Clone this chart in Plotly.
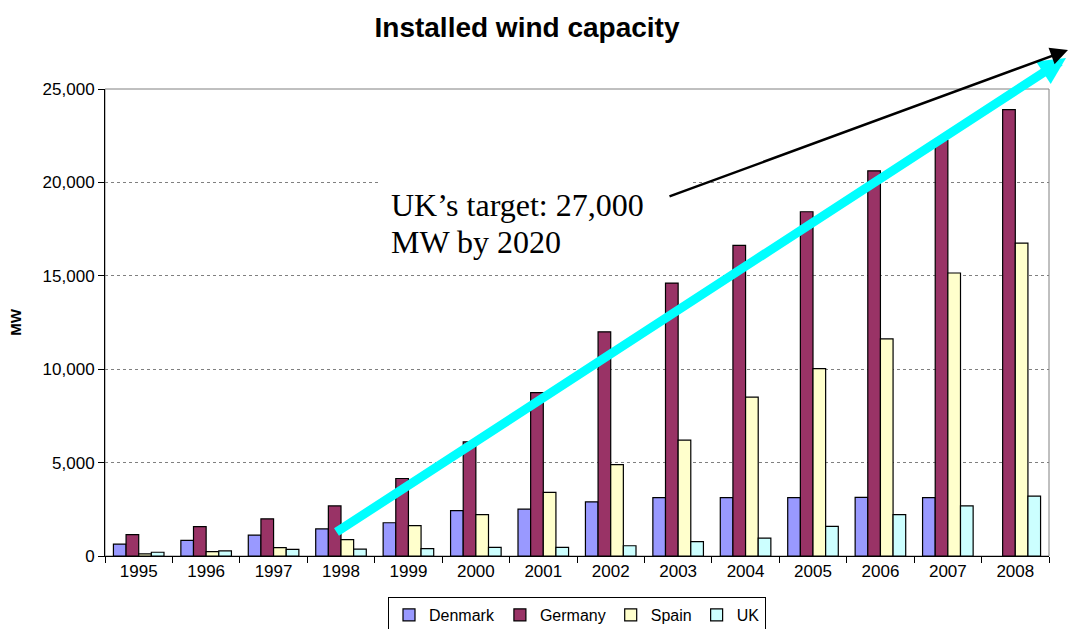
import plotly.graph_objects as go

years = ["1995", "1996", "1997", "1998", "1999", "2000", "2001",
         "2002", "2003", "2004", "2005", "2006", "2007", "2008"]
denmark = [640, 835, 1120, 1450, 1780, 2425, 2510, 2900, 3120, 3125, 3130, 3135, 3130, None]
germany = [1140, 1570, 1990, 2680, 4150, 6110, 8750, 12000, 14610, 16630, 18430, 20620, 22250, 23900]
spain = [110, 230, 450, 880, 1630, 2220, 3410, 4890, 6200, 8500, 10030, 11620, 15150, 16750]
uk = [200, 270, 360, 370, 390, 460, 465, 550, 770, 960, 1590, 2210, 2680, 3210]

series = [("Denmark", denmark, "#9999FF"),
          ("Germany", germany, "#993366"),
          ("Spain", spain, "#FFFFCC"),
          ("UK", uk, "#CCFFFF")]

W, H = 1070, 629
L, R, T, B = 105, 21, 89, 73
pw, ph = W - L - R, H - T - B

def px(x):
    return (x - L) / pw

def py(y):
    return (H - B - y) / ph

fig = go.Figure()
for name, vals, col in series:
    fig.add_trace(go.Bar(x=years, y=vals, name=name,
                         marker=dict(color=col, line=dict(color="black", width=1.2))))

fig.update_layout(
    width=W, height=H,
    margin=dict(l=L, r=R, t=T, b=B, autoexpand=False),
    paper_bgcolor="white", plot_bgcolor="white",
    barmode="group", bargap=0.25, bargroupgap=0,
    font=dict(family="Liberation Sans, Arial", color="black", size=17),
    title=dict(text="<b>Installed wind capacity</b>", x=527 / W, xanchor="center",
               y=1 - 27 / H, yanchor="middle", yref="container",
               font=dict(size=28, family="Liberation Sans, Arial", color="black")),
    legend=dict(orientation="h", x=px(577), xanchor="center", y=py(597), yanchor="top",
                bordercolor="black", borderwidth=1, bgcolor="white",
                font=dict(size=16), itemwidth=30, traceorder="normal",
                tracegroupgap=0),
    xaxis=dict(showline=True, linecolor="black", linewidth=1, ticks="outside",
               tickson="boundaries", ticklen=6, tickcolor="black",
               tickfont=dict(size=17), showgrid=False, automargin=False),
    yaxis=dict(range=[0, 25000], dtick=5000, tickformat=",", showline=True,
               linecolor="black", linewidth=1, ticks="outside", ticklen=6,
               tickcolor="black", tickfont=dict(size=17), automargin=False,
               showgrid=True, gridcolor="#808080", griddash="dot", gridwidth=1,
               zeroline=False,
               title=dict(text="<b>MW</b>", font=dict(size=15), standoff=17)),
)

# plot area border (top/right gray)
fig.add_shape(type="rect", xref="paper", yref="paper", x0=0, x1=1, y0=0, y1=1,
              line=dict(color="#808080", width=1), layer="below")

# white text box
fig.add_shape(type="rect", xref="paper", yref="paper",
              x0=px(381), x1=px(693), y0=py(268), y1=py(180),
              fillcolor="white", line=dict(width=0), layer="above")

label_font = dict(family="Liberation Serif, Times New Roman", size=32, color="black")
fig.add_annotation(xref="paper", yref="paper", x=px(389), y=py(205),
                   xanchor="left", yanchor="middle", showarrow=False,
                   text="UK’s target: 27,000", font=label_font)
fig.add_annotation(xref="paper", yref="paper", x=px(389), y=py(242),
                   xanchor="left", yanchor="middle", showarrow=False,
                   text="MW by 2020", font=label_font)

# cyan arrow
fig.add_annotation(xref="paper", yref="paper", x=px(1066), y=py(58),
                   ax=335 - 1066, ay=533 - 58, axref="pixel", ayref="pixel",
                   text="", showarrow=True, arrowcolor="#00FFFF", arrowwidth=9,
                   arrowhead=2, arrowsize=0.6, standoff=0, startstandoff=0)

# black arrow
fig.add_annotation(xref="paper", yref="paper", x=px(1068), y=py(50),
                   ax=668 - 1068, ay=197 - 50, axref="pixel", ayref="pixel",
                   text="", showarrow=True, arrowcolor="black", arrowwidth=2.5,
                   arrowhead=2, arrowsize=1.4, standoff=0, startstandoff=0)

fig.write_html("out.html", config={"displayModeBar": False},
               post_script="document.body.style.margin='0';document.body.style.overflow='hidden';")
